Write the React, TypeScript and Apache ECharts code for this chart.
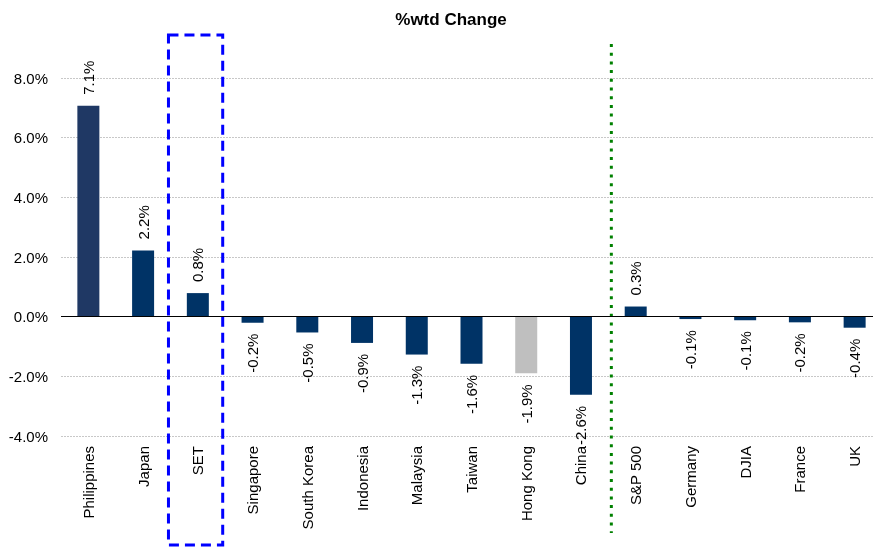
import React, { useEffect, useRef } from "react";
import * as echarts from "echarts";

const categories = ["Philippines", "Japan", "SET", "Singapore", "South Korea", "Indonesia", "Malaysia", "Taiwan", "Hong Kong", "China", "S&P 500", "Germany", "DJIA", "France", "UK"];
const values = [7.07, 2.22, 0.79, -0.2, -0.53, -0.88, -1.27, -1.58, -1.9, -2.62, 0.34, -0.08, -0.12, -0.19, -0.37];
const barColors = ["#1F3864", "#003366", "#003366", "#003366", "#003366", "#003366", "#003366", "#003366", "#BFBFBF", "#003366", "#003366", "#003366", "#003366", "#003366", "#003366"];
const yTicks = { min: -4, max: 8, interval: 2 };
const title = "%wtd Change";
const highlightCategory = "SET";
const dividerAfter = "China";

const FONT = "'Liberation Sans', Arial, sans-serif";

export default function App() {
  const ref = useRef<HTMLDivElement>(null);
  useEffect(() => {
    if (!ref.current) return;
    const chart = echarts.init(ref.current, null, { renderer: "svg" });
    chart.setOption({
      animation: false,
      title: {
        text: title,
        left: 446,
        top: 6,
        textAlign: "center",
        textStyle: { fontFamily: FONT, fontSize: 17, fontWeight: "bold", color: "#000" },
      },
      grid: { left: 61, right: 0, top: 78, bottom: 112, containLabel: false },
      xAxis: {
        type: "category",
        data: categories,
        axisLine: { show: false },
        axisTick: { show: false },
        axisLabel: { rotate: 90, margin: 10, fontFamily: FONT, fontSize: 15, color: "#000", interval: 0 },
      },
      yAxis: {
        type: "value",
        min: yTicks.min,
        max: yTicks.max,
        interval: yTicks.interval,
        axisLine: { show: false },
        axisTick: { show: false },
        axisLabel: {
          margin: 13,
          fontFamily: FONT,
          fontSize: 15,
          color: "#000",
          formatter: (v: number) => v.toFixed(1) + "%",
        },
        splitLine: { lineStyle: { color: "#C8C8C8", type: [2, 1], width: 1 } },
      },
      series: [
        {
          type: "bar",
          barWidth: 22,
          data: values.map((v, i) => ({
            value: v,
            itemStyle: { color: barColors[i] },
            label: {
              show: true,
              position: v >= 0 ? "top" : "bottom",
              rotate: 90,
              align: v >= 0 ? "left" : "right",
              verticalAlign: "middle",
              distance: 11,
              fontFamily: FONT,
              fontSize: 15,
              color: "#000",
              formatter: () => v.toFixed(1) + "%",
            },
          })),
          markLine: {
            silent: true,
            symbol: "none",
            label: { show: false },
            lineStyle: { color: "#000", type: "solid", width: 1.2 },
            data: [{ yAxis: 0 }],
          },
        },
      ],
    });

    const idx = categories.indexOf(highlightCategory);
    const c0 = chart.convertToPixel({ xAxisIndex: 0 }, categories[0]) as number;
    const c1 = chart.convertToPixel({ xAxisIndex: 0 }, categories[1]) as number;
    const band = c1 - c0;
    const cx = chart.convertToPixel({ xAxisIndex: 0 }, categories[idx]) as number;
    const dIdx = categories.indexOf(dividerAfter);
    const dx = (chart.convertToPixel({ xAxisIndex: 0 }, categories[dIdx]) as number) + band / 2;

    chart.setOption({
      graphic: [
        {
          type: "rect",
          shape: { x: cx - band / 2 - 2, y: 35, width: band - 0.5, height: 510 },
          style: { fill: "none", stroke: "#0000FF", lineWidth: 3, lineDash: [10, 6] },
          silent: true,
        },
        {
          type: "line",
          shape: { x1: dx + 3, y1: 44, x2: dx + 3, y2: 533 },
          style: { stroke: "#008000", lineWidth: 3, lineDash: [3, 5.7] },
          silent: true,
        },
      ],
    });

    return () => chart.dispose();
  }, []);
  return (
    <div style={{ position: "fixed", left: 0, top: 0, width: 873, height: 548, overflow: "hidden" }}>
      <div ref={ref} style={{ width: 882, height: 548 }} />
    </div>
  );
}
